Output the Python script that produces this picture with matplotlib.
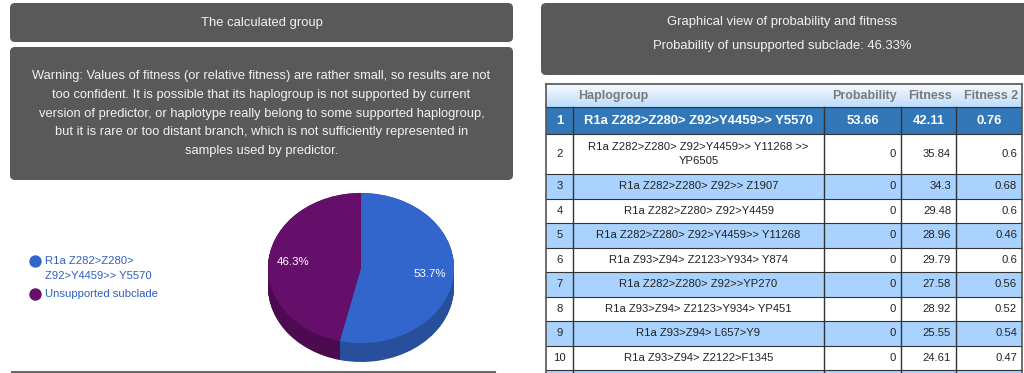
import numpy as np
import matplotlib
matplotlib.use("Agg")
import matplotlib.pyplot as plt
from matplotlib.patches import FancyBboxPatch, Rectangle
from matplotlib.colors import LinearSegmentedColormap

plt.rcParams['font.family'] = ['Liberation Sans', 'DejaVu Sans']

'''Data'''
pie_labels = ["R1a Z282>Z280>\nZ92>Y4459>> Y5570", "Unsupported subclade"]
pie_values = [53.66, 46.33]

columns = ["Haplogroup", "Probability", "Fitness", "Fitness 2"]
haplogroups = ["R1a Z282>Z280> Z92>Y4459>> Y5570",
               "R1a Z282>Z280> Z92>Y4459>> Y11268 >>\nYP6505",
               "R1a Z282>Z280> Z92>> Z1907",
               "R1a Z282>Z280> Z92>Y4459",
               "R1a Z282>Z280> Z92>Y4459>> Y11268",
               "R1a Z93>Z94> Z2123>Y934> Y874",
               "R1a Z282>Z280> Z92>>YP270",
               "R1a Z93>Z94> Z2123>Y934> YP451",
               "R1a Z93>Z94> L657>Y9",
               "R1a Z93>Z94> Z2122>F1345"]
probability = [53.66, 0, 0, 0, 0, 0, 0, 0, 0, 0]
fitness = [42.11, 35.84, 34.3, 29.48, 28.96, 29.79, 27.58, 28.92, 25.55, 24.61]
fitness2 = [0.76, 0.6, 0.68, 0.6, 0.46, 0.6, 0.56, 0.52, 0.54, 0.47]

warning = ["Warning: Values of fitness (or relative fitness) are rather small, so results are not",
           "too confident. It is possible that its haplogroup is not supported by current",
           "version of predictor, or haplotype really belong to some supported haplogroup,",
           "but it is rare or too distant branch, which is not sufficiently represented in",
           "samples used by predictor."]

'''Styles'''
W, H = 1024, 373
px = 0.72  # points per pixel at dpi 100
box_col = '#595959'
box_txt = '#f2f2f2'
top_cols = ['#3366cc', '#660f6a']
side_cols = ['#274f9b', '#4c0b50']
sel_col = '#3277b8'
odd_col = '#a9d3fe'
line_col = '#333333'
leg_txt = '#2f5fbf'

fig = plt.figure(figsize=(W / 100, H / 100), dpi=100)
fig.patch.set_facecolor('white')
ax = fig.add_axes([0, 0, 1, 1])
ax.set_xlim(0, W)
ax.set_ylim(H, 0)
ax.axis('off')


def box(x0, y0, x1, y1):
    ax.add_patch(FancyBboxPatch((x0, y0), x1 - x0, y1 - y0,
                                boxstyle="round,pad=0,rounding_size=5",
                                fc=box_col, ec='none', zorder=1))


'''Left panel'''
box(10, 3, 513, 42)
ax.text(261.5, 23, "The calculated group", color=box_txt, fontsize=13 * px,
        ha='center', va='center')
box(10, 47, 513, 180)
for k, line in enumerate(warning):
    ax.text(261.5, 76.5 + 18.6 * k, line, color=box_txt, fontsize=12.9 * px,
            ha='center', va='center')
ax.plot([12, 495], [372, 372], color='#6a6a6a', lw=1.5)

# legend
leg_y = [261, 294]
for lab, col, y in zip(pie_labels, top_cols, leg_y):
    ax.scatter([35], [y], s=(11 * px) ** 2, color=col, zorder=3)
    for k, part in enumerate(lab.split('\n')):
        ax.text(45, y + 15 * k, part, color=leg_txt, fontsize=11.3 * px,
                ha='left', va='center')

'''3D pie'''
pax = fig.add_axes([261 / W, 0, 200 / W, 190 / H])
rx, ry = 93.0, 75.0
depth = 19 / ry
for d in np.linspace(depth, 0, 30):
    pax.pie(pie_values, colors=side_cols, startangle=90, counterclock=False,
            center=(0, -d), wedgeprops=dict(linewidth=0))
wedges, texts, autotexts = pax.pie(
    pie_values, colors=top_cols, startangle=90, counterclock=False,
    autopct='%1.1f%%', pctdistance=0.74, wedgeprops=dict(linewidth=0),
    textprops=dict(color='white', fontsize=11.5 * px))
pax.set_aspect('auto')
pax.set_xlim(-100 / rx, 100 / rx)
pax.set_ylim(-105 / ry, 85 / ry)
pax.axis('off')

'''Right panel'''
box(541, 3, 1040, 75)
ax.text(782, 22, "Graphical view of probability and fitness", color=box_txt,
        fontsize=13 * px, ha='center', va='center')
ax.text(782, 46, "Probability of unsupported subclade: %.2f%%" % pie_values[1],
        color=box_txt, fontsize=13 * px, ha='center', va='center')

# table
tx = [546, 573, 824, 901, 956, 1022]
head_top, head_bot = 84, 107
grad = np.linspace(0, 1, 50).reshape(-1, 1)
gcmap = LinearSegmentedColormap.from_list('g', ['#f7fbff', '#bddcfb'])
ax.imshow(grad, extent=(tx[0], tx[-1], head_bot, head_top), aspect='auto',
          cmap=gcmap, zorder=1)
ax.text(578, 96, columns[0], color='#7a7a7a', fontsize=12.5 * px,
        fontweight='bold', ha='left', va='center')
for name, xr in zip(columns[1:], tx[3:]):
    ax.text(xr - 4, 96, name, color='#7a7a7a', fontsize=12.5 * px,
            fontweight='bold', ha='right', va='center')

y = head_bot
for i, (hap, p, f, f2) in enumerate(zip(haplogroups, probability, fitness, fitness2)):
    nlines = hap.count('\n') + 1
    if i == 0:
        h = 27
    elif nlines > 1:
        h = 40
    else:
        h = 24.5
    fc = sel_col if i == 0 else (odd_col if i % 2 == 0 else 'white')
    ax.add_patch(Rectangle((tx[0], y), tx[-1] - tx[0], h, fc=fc, ec='none', zorder=1))
    yc = y + h / 2
    vals = ["%g" % p, "%g" % f, "%g" % f2]
    if i == 0:
        kw = dict(color='white', fontsize=13 * px, fontweight='bold', va='center')
        ax.text((tx[0] + tx[1]) / 2, yc, str(i + 1), ha='center', **kw)
        ax.text((tx[1] + tx[2]) / 2, yc, hap, ha='center', **kw)
        for v, a, b in zip(vals, tx[2:5], tx[3:6]):
            ax.text((a + b) / 2, yc, v, ha='center', **kw)
    else:
        kw = dict(color='#222222', fontsize=11.3 * px, va='center')
        ax.text((tx[0] + tx[1]) / 2, yc, str(i + 1), ha='center', **kw)
        ax.text((tx[1] + tx[2]) / 2, yc, hap, ha='center', linespacing=1.45, **kw)
        for v, b in zip(vals, tx[3:6]):
            ax.text(b - 5, yc, v, ha='right', **kw)
    ax.plot([tx[0], tx[-1]], [y, y], color=line_col, lw=0.8, zorder=2)
    y += h

# next (cut off) row
ax.add_patch(Rectangle((tx[0], y), tx[-1] - tx[0], 10, fc=odd_col, ec='none', zorder=1))
ax.plot([tx[0], tx[-1]], [y, y], color=line_col, lw=0.8, zorder=2)
for xv in tx[1:-1]:
    ax.plot([xv, xv], [head_bot, H + 5], color=line_col, lw=1.0, zorder=2)
ax.plot([tx[0], tx[0]], [head_top, H + 5], color='#555555', lw=1.2, zorder=2)
ax.plot([tx[-1], tx[-1]], [head_top, H + 5], color='#555555', lw=1.2, zorder=2)
ax.plot([tx[0], tx[-1]], [head_top, head_top], color='#555555', lw=1.2, zorder=2)

ax.set_xlim(0, W)
ax.set_ylim(H, 0)
fig.savefig("out.png", dpi=100)
